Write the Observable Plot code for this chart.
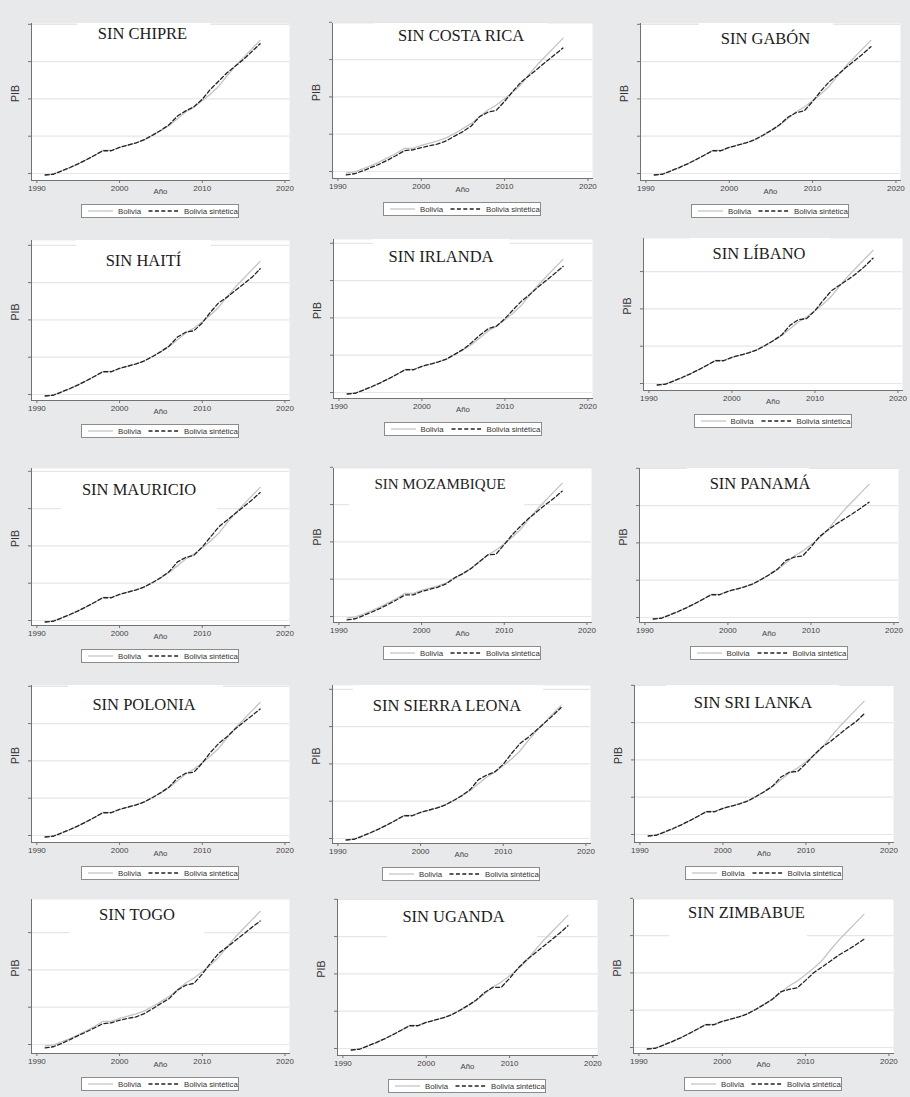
<!DOCTYPE html>
<html>
<head>
<meta charset="utf-8">
<script src="https://cdn.jsdelivr.net/npm/d3@7"></script>
<script src="https://cdn.jsdelivr.net/npm/@observablehq/plot@0.6"></script>
<style>
  html, body { margin: 0; padding: 0; background: #e8e9eb; }
  #fig { position: relative; width: 910px; height: 1097px; overflow: hidden; background: #e8e9eb; }
  .panel-svg { position: absolute; }
  .tbox { position: absolute; background: #fff; }
  .title {
    position: absolute; transform: translate(-50%, -50%);
    font-family: "Liberation Serif", "Times New Roman", serif;
    font-size: 16.5px; color: #1c1c1c; white-space: nowrap; line-height: 1;
  }
  .legend {
    position: absolute; box-sizing: border-box; width: 158px; height: 14px;
    border: 1px solid #8c8c8c; background: #fff;
    font-family: "Liberation Sans", Arial, sans-serif; font-size: 7.8px; color: #333;
  }
  .legend span { position: absolute; top: 1.5px; white-space: nowrap; line-height: 1.2; }
  .legend svg { position: absolute; top: 0; }
</style>
</head>
<body>
<div id="fig"></div>
<script>
// Años de la serie y marcas de los ejes
const years = [1991, 1992, 1993, 1994, 1995, 1996, 1997, 1998, 1999, 2000, 2001, 2002, 2003, 2004,
               2005, 2006, 2007, 2008, 2009, 2010, 2011, 2012, 2013, 2014, 2015, 2016, 2017];
const anioTicks = [1990, 2000, 2010, 2020];
const pibTicks = [0, 1, 2, 3, 4];

// PIB de Bolivia (en unidades de las marcas del eje, sin etiquetas)
const bolivia = [-0.04, -0.01, 0.07, 0.16, 0.26, 0.37, 0.49, 0.62, 0.62, 0.70, 0.76, 0.82, 0.90, 1.02,
                 1.15, 1.29, 1.47, 1.65, 1.78, 1.95, 2.13, 2.34, 2.62, 2.88, 3.11, 3.34, 3.57];

// Bolivia sintética, excluyendo un país del grupo de control cada vez
const sinChipre = [-0.04, -0.02, 0.07, 0.16, 0.26, 0.37, 0.49, 0.61, 0.61, 0.70, 0.76, 0.82, 0.91, 1.03,
                   1.16, 1.31, 1.54, 1.68, 1.79, 1.99, 2.26, 2.48, 2.70, 2.88, 3.06, 3.27, 3.48];
const sinCostaRica = [-0.09, -0.06, 0.02, 0.11, 0.20, 0.31, 0.43, 0.56, 0.58, 0.64, 0.69, 0.74, 0.82, 0.95,
                      1.07, 1.22, 1.47, 1.59, 1.64, 1.88, 2.15, 2.40, 2.58, 2.76, 2.95, 3.13, 3.31];
const sinGabon = [-0.04, -0.02, 0.07, 0.16, 0.26, 0.37, 0.49, 0.61, 0.61, 0.70, 0.76, 0.82, 0.90, 1.02,
                  1.15, 1.30, 1.50, 1.63, 1.68, 1.93, 2.21, 2.46, 2.64, 2.84, 3.02, 3.20, 3.40];
const sinHaiti = [-0.04, -0.02, 0.07, 0.16, 0.26, 0.37, 0.49, 0.61, 0.61, 0.70, 0.76, 0.82, 0.90, 1.02,
                  1.15, 1.30, 1.54, 1.67, 1.71, 1.92, 2.21, 2.46, 2.61, 2.79, 2.96, 3.14, 3.37];
const sinIrlanda = [-0.04, -0.02, 0.07, 0.16, 0.26, 0.37, 0.49, 0.61, 0.61, 0.70, 0.76, 0.82, 0.90, 1.03,
                    1.16, 1.34, 1.54, 1.71, 1.78, 1.98, 2.22, 2.45, 2.63, 2.83, 3.01, 3.19, 3.38];
const sinLibano = [-0.04, -0.02, 0.07, 0.16, 0.26, 0.37, 0.49, 0.61, 0.61, 0.70, 0.76, 0.82, 0.90, 1.02,
                   1.15, 1.30, 1.56, 1.71, 1.74, 1.95, 2.23, 2.49, 2.64, 2.79, 2.95, 3.14, 3.36];
const sinMauricio = [-0.04, -0.02, 0.07, 0.16, 0.26, 0.37, 0.49, 0.61, 0.61, 0.70, 0.76, 0.82, 0.90, 1.02,
                     1.15, 1.31, 1.57, 1.69, 1.75, 1.97, 2.24, 2.51, 2.69, 2.87, 3.05, 3.23, 3.43];
const sinMozambique = [-0.09, -0.06, 0.03, 0.12, 0.22, 0.33, 0.45, 0.58, 0.58, 0.67, 0.73, 0.79, 0.88, 1.04,
                       1.15, 1.29, 1.47, 1.65, 1.67, 1.93, 2.20, 2.43, 2.64, 2.82, 3.00, 3.17, 3.36];
const sinPanama = [-0.04, -0.02, 0.07, 0.16, 0.26, 0.37, 0.49, 0.61, 0.61, 0.70, 0.76, 0.82, 0.90, 1.02,
                   1.15, 1.30, 1.53, 1.62, 1.65, 1.89, 2.16, 2.34, 2.50, 2.64, 2.78, 2.93, 3.09];
const sinPolonia = [-0.04, -0.02, 0.07, 0.16, 0.26, 0.37, 0.49, 0.61, 0.61, 0.70, 0.76, 0.82, 0.90, 1.02,
                    1.15, 1.30, 1.54, 1.67, 1.70, 1.94, 2.23, 2.47, 2.65, 2.86, 3.04, 3.21, 3.39];
const sinSierraLeona = [-0.04, -0.02, 0.07, 0.16, 0.26, 0.37, 0.49, 0.61, 0.61, 0.70, 0.76, 0.82, 0.90, 1.02,
                        1.15, 1.31, 1.58, 1.70, 1.79, 1.99, 2.28, 2.54, 2.71, 2.90, 3.10, 3.30, 3.51];
const sinSriLanka = [-0.04, -0.02, 0.07, 0.16, 0.26, 0.37, 0.49, 0.61, 0.61, 0.70, 0.76, 0.82, 0.90, 1.02,
                     1.15, 1.30, 1.54, 1.67, 1.69, 1.90, 2.14, 2.35, 2.50, 2.68, 2.86, 3.02, 3.23];
const sinTogo = [-0.09, -0.06, 0.03, 0.13, 0.24, 0.34, 0.45, 0.56, 0.58, 0.65, 0.70, 0.74, 0.83, 0.96,
                 1.10, 1.23, 1.46, 1.59, 1.64, 1.89, 2.18, 2.45, 2.61, 2.79, 2.96, 3.14, 3.31];
const sinUganda = [-0.04, -0.02, 0.07, 0.16, 0.26, 0.37, 0.49, 0.61, 0.61, 0.70, 0.76, 0.82, 0.90, 1.02,
                   1.15, 1.30, 1.50, 1.64, 1.64, 1.88, 2.15, 2.37, 2.55, 2.73, 2.91, 3.09, 3.29];
const sinZimbabue = [-0.04, -0.02, 0.07, 0.16, 0.26, 0.37, 0.49, 0.61, 0.61, 0.70, 0.76, 0.82, 0.90, 1.02,
                     1.15, 1.29, 1.49, 1.56, 1.60, 1.80, 2.01, 2.16, 2.32, 2.48, 2.61, 2.75, 2.90];

// Títulos de los paneles, en orden de lectura
const titulos = ["SIN CHIPRE", "SIN COSTA RICA", "SIN GABÓN", "SIN HAITÍ", "SIN IRLANDA", "SIN LÍBANO",
                 "SIN MAURICIO", "SIN MOZAMBIQUE", "SIN PANAMÁ", "SIN POLONIA", "SIN SIERRA LEONA",
                 "SIN SRI LANKA", "SIN TOGO", "SIN UGANDA", "SIN ZIMBABUE"];
const sinteticas = [sinChipre, sinCostaRica, sinGabon, sinHaiti, sinIrlanda, sinLibano, sinMauricio,
                    sinMozambique, sinPanama, sinPolonia, sinSierraLeona, sinSriLanka, sinTogo, sinUganda, sinZimbabue];

// Disposición de cada panel en la página (píxeles):
// ax = eje Y, top = borde superior, by = eje X, right = borde derecho, t0 = marca 0,
// tx/ty = centro del título, box = recuadro blanco del título [x0, y0, x1, y1], fs = tamaño del título
const layout = [
  {ax: 31,  top: 23,  by: 180,  right: 289, t0: 173,  tx: 142.5, ty: 34,    box: [77, 23, 210, 47]},
  {ax: 332, top: 23,  by: 178,  right: 592, t0: 171,  tx: 461,   ty: 36,    box: [374, 23, 547, 48]},
  {ax: 640, top: 23,  by: 180,  right: 900, t0: 173,  tx: 765.5, ty: 39,    box: [699, 23, 833, 50]},
  {ax: 31,  top: 240, by: 400,  right: 289, t0: 394,  tx: 143.5, ty: 260.5, box: [76, 240, 211, 272]},
  {ax: 333, top: 239, by: 398,  right: 592, t0: 392,  tx: 441,   ty: 257,   box: [373, 239, 510, 270]},
  {ax: 643, top: 238, by: 390,  right: 902, t0: 383,  tx: 759,   ty: 254,   box: [690, 238, 830, 268]},
  {ax: 31,  top: 468, by: 625,  right: 289, t0: 620,  tx: 139,   ty: 489.5, box: [61, 473, 217, 512]},
  {ax: 333, top: 468, by: 622,  right: 591, t0: 616,  tx: 440,   ty: 484,   box: [349, 471, 524, 509], fs: 15},
  {ax: 639, top: 468, by: 622,  right: 898, t0: 617,  tx: 760,   ty: 484,   box: [687, 468, 809, 500]},
  {ax: 31,  top: 685, by: 842,  right: 289, t0: 835,  tx: 144,   ty: 704.5, box: [68, 685, 223, 716]},
  {ax: 332, top: 685, by: 843,  right: 590, t0: 838,  tx: 447,   ty: 705.5, box: [353, 685, 543, 718]},
  {ax: 634, top: 685, by: 842,  right: 893, t0: 834,  tx: 753,   ty: 703,   box: [666, 685, 839, 716]},
  {ax: 31,  top: 899, by: 1053, right: 289, t0: 1044, tx: 137,   ty: 915,   box: [70, 901, 204, 936]},
  {ax: 337, top: 899, by: 1055, right: 597, t0: 1048, tx: 453.5, ty: 917,   box: [387, 901, 537, 940]},
  {ax: 633, top: 899, by: 1053, right: 893, t0: 1047, tx: 746.5, ty: 912.5, box: [669, 901, 807, 939]}
];

const SP = 37.3;               // separación entre marcas del eje Y
const ML = 30, MR = 10, MT = 4, MB = 22;
const axisGray = "#727272";
const sans = "'Liberation Sans', Arial, sans-serif";
const fig = document.getElementById("fig");

titulos.forEach((titulo, i) => {
  const L = layout[i];
  const w = L.right - L.ax, h = L.by - L.top;
  const yLo = -(L.by - L.t0) / SP, yHi = (L.t0 - L.top) / SP;
  const rows = years.map((anio, k) => ({anio, real: bolivia[k], sint: sinteticas[i][k]}));
  const yt = pibTicks.filter(v => v <= yHi + 0.05);

  const chart = Plot.plot({
    width: w + ML + MR,
    height: h + MT + MB,
    marginLeft: ML, marginRight: MR, marginTop: MT, marginBottom: MB,
    style: {background: "transparent", overflow: "visible", fontFamily: sans},
    x: {domain: [1989.35, 2020.55]},
    y: {domain: [yLo, yHi]},
    marks: [
      Plot.frame({fill: "#fff", stroke: null}),
      Plot.gridY(yt, {stroke: "#e6e6e6", strokeOpacity: 1, strokeWidth: 1.2}),
      Plot.line(rows, {x: "anio", y: "real", stroke: "#c4c4c4", strokeWidth: 1.3}),
      Plot.line(rows, {x: "anio", y: "sint", stroke: "#232323", strokeWidth: 1.3, strokeDasharray: "4,2.4"}),
      Plot.frame({anchor: "left", stroke: axisGray}),
      Plot.frame({anchor: "bottom", stroke: axisGray}),
      Plot.axisY(yt, {tickSize: 3, tickFormat: () => "", stroke: axisGray, label: null}),
      Plot.axisX(anioTicks, {tickSize: 3, tickPadding: 2, tickFormat: d => String(d), fontSize: 8,
                             stroke: axisGray, fill: "#444", label: null}),
      Plot.text(["PIB"], {frameAnchor: "left", dx: -16, rotate: -90, fontSize: 10.5, fill: "#333"}),
      Plot.text(["Año"], {frameAnchor: "bottom", dy: 13, fontSize: 7.8, fill: "#444"})
    ]
  });
  chart.classList.add("panel-svg");
  chart.style.left = (L.ax - ML) + "px";
  chart.style.top = (L.top - MT) + "px";
  fig.appendChild(chart);

  // recuadro blanco detrás del título
  const box = document.createElement("div");
  box.className = "tbox";
  box.style.left = L.box[0] + "px";
  box.style.top = L.box[1] + "px";
  box.style.width = (L.box[2] - L.box[0]) + "px";
  box.style.height = (L.box[3] - L.box[1]) + "px";
  fig.appendChild(box);

  const t = document.createElement("div");
  t.className = "title";
  t.textContent = titulo;
  t.style.left = L.tx + "px";
  t.style.top = L.ty + "px";
  if (L.fs) t.style.fontSize = L.fs + "px";
  fig.appendChild(t);

  // leyenda centrada bajo el panel
  const leg = document.createElement("div");
  leg.className = "legend";
  leg.style.left = ((L.ax + L.right) / 2 - 79) + "px";
  leg.style.top = (L.by + 24) + "px";
  leg.innerHTML =
    `<svg width="30" height="12" style="left:5px"><line x1="1" x2="26" y1="6" y2="6" stroke="#c4c4c4" stroke-width="1.3"/></svg>` +
    `<span style="left:36px">Bolivia</span>` +
    `<svg width="36" height="12" style="left:66px"><line x1="0.5" x2="32" y1="6" y2="6" stroke="#232323" stroke-width="1.3" stroke-dasharray="4,2.4"/></svg>` +
    `<span style="left:102px">Bolivia sintética</span>`;
  fig.appendChild(leg);
});
</script>
</body>
</html>
